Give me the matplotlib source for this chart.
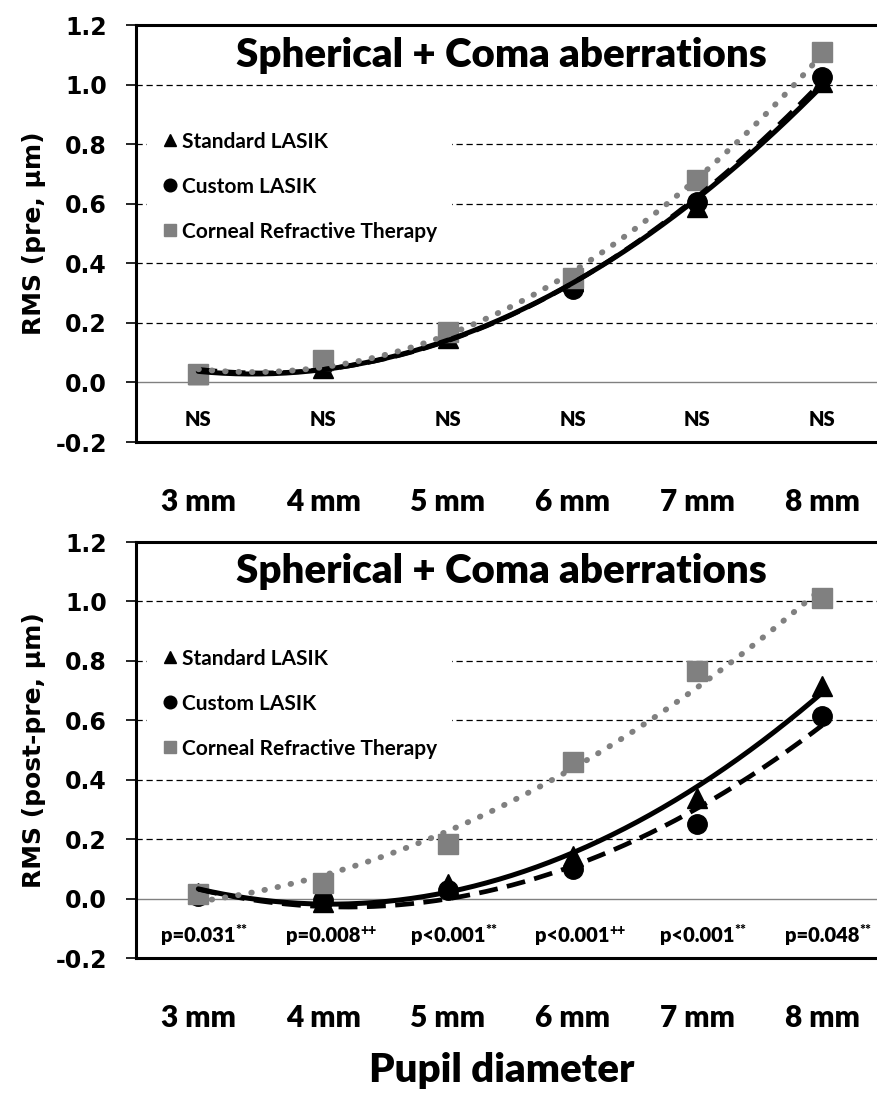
import numpy as np
import matplotlib.pyplot as plt

# pupil sizes (mm) and category labels
pupil_mm = [3, 4, 5, 6, 7, 8]
tick_labels = ["3 mm", "4 mm", "5 mm", "6 mm", "7 mm", "8 mm"]
series_names = ["Standard LASIK", "Custom LASIK", "Corneal Refractive Therapy"]

# top panel: RMS pre
pre_standard = [0.03, 0.05, 0.15, 0.34, 0.59, 1.01]
pre_custom = [0.03, 0.06, 0.16, 0.315, 0.605, 1.025]
pre_crt = [0.03, 0.074, 0.17, 0.35, 0.68, 1.11]
pre_sig = ["NS", "NS", "NS", "NS", "NS", "NS"]
pre_mark = ["", "", "", "", "", ""]

# bottom panel: RMS post-pre
diff_standard = [0.02, -0.01, 0.05, 0.145, 0.34, 0.715]
diff_custom = [0.01, -0.005, 0.03, 0.10, 0.25, 0.615]
diff_crt = [0.015, 0.054, 0.185, 0.46, 0.765, 1.01]
diff_sig = ["p=0.031", "p=0.008", "p<0.001", "p<0.001", "p<0.001", "p=0.048"]
diff_mark = ["**", "++", "**", "++", "**", "**"]

yticks = [-0.2, 0.0, 0.2, 0.4, 0.6, 0.8, 1.0, 1.2]
GREY = "#808080"
LATO = "Lato"


def trend(ax, y, **kw):
    # 2nd order polynomial trendline, like the Excel one
    xs = np.linspace(pupil_mm[0], pupil_mm[-1], 200)
    coef = np.polyfit(pupil_mm, y, 2)
    ax.plot(xs, np.polyval(coef, xs), zorder=6, **kw)


def draw_panel(ax, std, cus, crt, ylabel, sig, marks):
    for v in yticks:
        if v == 0:
            ax.axhline(v, color=GREY, lw=1.0, zorder=1)
        elif -0.2 < v < 1.2:
            ax.axhline(v, color="black", lw=0.9, ls=(0, (5, 3)), zorder=1)

    ax.plot(pupil_mm, std, ls="none", marker="^", ms=14, color="black",
            label=series_names[0], zorder=3)
    ax.plot(pupil_mm, cus, ls="none", marker="o", ms=14, color="black",
            label=series_names[1], zorder=4)
    ax.plot(pupil_mm, crt, ls="none", marker="s", ms=14, color=GREY,
            label=series_names[2], zorder=5)

    trend(ax, std, color="black", lw=3.6, solid_capstyle="round")
    trend(ax, cus, color="black", lw=3.4, ls=(0, (4, 2)))
    trend(ax, crt, color=GREY, lw=4.2, ls=(0, (0.1, 2.2)),
          dash_capstyle="round")

    ax.set_xlim(2.5, 8.44)
    ax.set_ylim(-0.2, 1.2)
    ax.set_yticks(yticks)
    ax.set_yticklabels(["%.1f" % v for v in yticks])
    ax.set_xticks(pupil_mm)
    ax.set_xticklabels(tick_labels, fontfamily=LATO, fontweight="heavy",
                       fontsize=21.5)
    for lab in ax.get_yticklabels():
        lab.set_fontweight("bold")
        lab.set_fontsize(17)
    ax.tick_params(axis="y", direction="out", length=7, width=1.2, pad=14)
    ax.tick_params(axis="x", length=0, pad=33)

    for side in ["top", "left", "bottom"]:
        ax.spines[side].set_linewidth(2.2)
    ax.spines["right"].set_visible(False)

    ax.set_ylabel(ylabel, fontsize=18, fontweight="bold")
    ax.yaxis.set_label_coords(-0.122, 0.5)

    ax.text(0.4926, 0.928, "Spherical + Coma aberrations", transform=ax.transAxes,
            ha="center", va="center", fontfamily=LATO, fontweight="heavy",
            fontsize=29)

    for x, s, m in zip(pupil_mm, sig, marks):
        t = ax.text(x, -0.125, s, ha="center", va="center", fontfamily=LATO,
                    fontweight="heavy", fontsize=14.5, zorder=7)
        if m:
            ax.annotate(m, xy=(1, 1), xycoords=t, xytext=(0, 1.5),
                        textcoords="offset points", ha="left", va="top",
                        fontfamily=LATO, fontweight="heavy", fontsize=10)

    leg = ax.legend(loc="upper left", bbox_to_anchor=(0.015, 0.779),
                    borderaxespad=0, frameon=True, fancybox=False,
                    edgecolor="none", facecolor="white", framealpha=1,
                    borderpad=0.7, handlelength=0.8, handletextpad=0.18,
                    labelspacing=1.2, markerscale=0.65,
                    prop={"family": LATO, "weight": "bold", "size": 15})
    leg.set_zorder(8)


fig = plt.figure(figsize=(8.77, 10.93), dpi=100)
ax1 = fig.add_axes([0.155, 0.5956, 0.845, 0.3815])
ax2 = fig.add_axes([0.155, 0.1235, 0.845, 0.3806])

draw_panel(ax1, pre_standard, pre_custom, pre_crt, "RMS (pre, μm)",
           pre_sig, pre_mark)
draw_panel(ax2, diff_standard, diff_custom, diff_crt, "RMS (post-pre, μm)",
           diff_sig, diff_mark)

fig.text(0.5725, 0.021, "Pupil diameter", ha="center", va="center",
         fontfamily=LATO, fontweight="heavy", fontsize=29)

fig.savefig("out.png", dpi=100)
